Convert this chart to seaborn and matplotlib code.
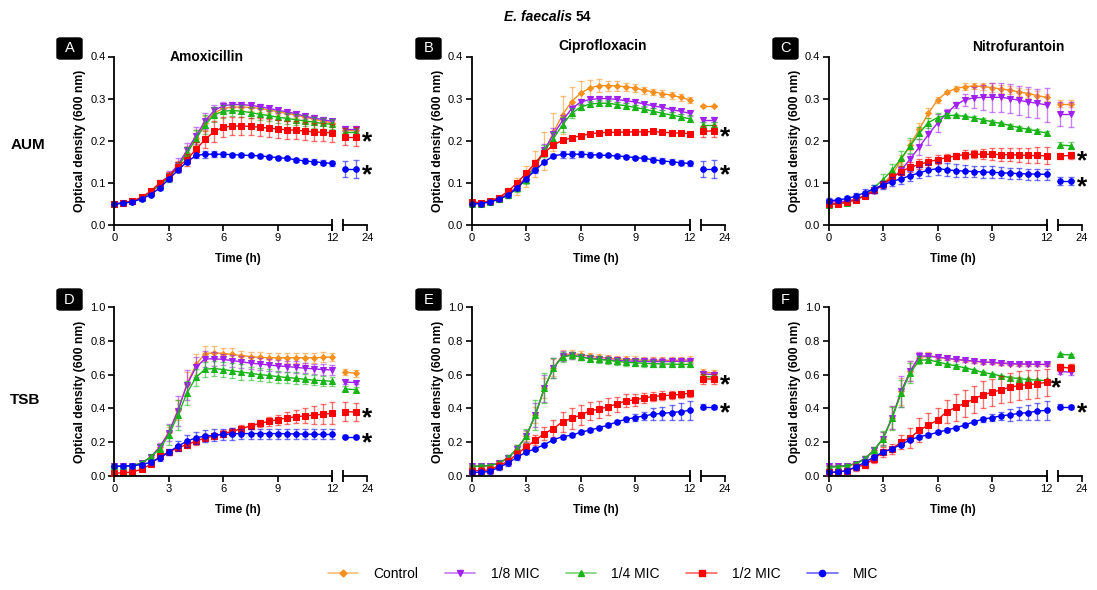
import matplotlib.pyplot as plt
import seaborn as sns
import pandas as pd
from matplotlib.lines import Line2D
from matplotlib.patches import FancyBboxPatch
from matplotlib.colors import to_rgba

# ---- data -------------------------------------------------------------
time_h = [0, 0.5, 1, 1.5, 2, 2.5, 3, 3.5, 4, 4.5, 5, 5.5, 6, 6.5, 7, 7.5, 8,
          8.5, 9, 9.5, 10, 10.5, 11, 11.5, 12]
time_late = [23.0, 23.5]   # the two 24 h readings (after the axis break)

groups = ["Control", "1/8 MIC", "1/4 MIC", "1/2 MIC", "MIC"]
colors = ["#F7901E", "#A020F0", "#18B418", "#FF0000", "#0000FF"]
markers = ["D", "v", "^", "s", "o"]
msizes = [3.0, 4.2, 4.2, 4.4, 4.0]

# each list: 25 values for 0-12 h, then the 2 late values
# A - AUM, Amoxicillin
A_control = [0.050, 0.052, 0.056, 0.064, 0.077, 0.095, 0.114, 0.140, 0.172, 0.207, 0.242, 0.266, 0.277, 0.280, 0.280, 0.279, 0.277, 0.273, 0.269, 0.265, 0.261, 0.256, 0.251, 0.247, 0.242, 0.225, 0.225]
A_mic8 = [0.050, 0.052, 0.056, 0.064, 0.078, 0.097, 0.117, 0.143, 0.177, 0.212, 0.247, 0.272, 0.283, 0.286, 0.286, 0.284, 0.281, 0.277, 0.272, 0.269, 0.264, 0.258, 0.254, 0.250, 0.246, 0.228, 0.228]
A_mic4 = [0.050, 0.052, 0.056, 0.064, 0.078, 0.096, 0.113, 0.138, 0.170, 0.205, 0.238, 0.262, 0.270, 0.272, 0.270, 0.267, 0.263, 0.260, 0.256, 0.253, 0.250, 0.247, 0.244, 0.241, 0.239, 0.220, 0.220]
A_mic2 = [0.050, 0.052, 0.057, 0.066, 0.080, 0.100, 0.115, 0.138, 0.155, 0.180, 0.203, 0.222, 0.232, 0.235, 0.235, 0.234, 0.232, 0.230, 0.228, 0.226, 0.225, 0.223, 0.221, 0.220, 0.219, 0.210, 0.210]
A_mic = [0.050, 0.052, 0.055, 0.062, 0.072, 0.088, 0.109, 0.130, 0.150, 0.165, 0.168, 0.168, 0.168, 0.167, 0.166, 0.165, 0.164, 0.162, 0.160, 0.158, 0.155, 0.152, 0.150, 0.148, 0.146, 0.133, 0.133]
A_control_sd = [0.002, 0.002, 0.003, 0.004, 0.005, 0.007, 0.009, 0.012, 0.015, 0.018, 0.016, 0.012, 0.009, 0.008, 0.008, 0.008, 0.008, 0.008, 0.008, 0.008, 0.008, 0.008, 0.008, 0.008, 0.008, 0.006, 0.006]
A_mic8_sd = [0.002, 0.002, 0.003, 0.004, 0.006, 0.008, 0.011, 0.015, 0.018, 0.020, 0.018, 0.012, 0.008, 0.006, 0.006, 0.006, 0.006, 0.006, 0.006, 0.006, 0.006, 0.006, 0.006, 0.006, 0.006, 0.006, 0.006]
A_mic4_sd = [0.002, 0.002, 0.003, 0.004, 0.006, 0.008, 0.010, 0.012, 0.015, 0.020, 0.022, 0.018, 0.015, 0.014, 0.014, 0.014, 0.014, 0.014, 0.014, 0.014, 0.013, 0.013, 0.013, 0.012, 0.012, 0.010, 0.010]
A_mic2_sd = [0.002, 0.002, 0.003, 0.004, 0.005, 0.008, 0.010, 0.012, 0.014, 0.016, 0.020, 0.025, 0.024, 0.022, 0.021, 0.021, 0.021, 0.021, 0.021, 0.021, 0.021, 0.021, 0.021, 0.021, 0.021, 0.020, 0.022]
A_mic_sd = [0.002, 0.002, 0.002, 0.003, 0.003, 0.004, 0.004, 0.005, 0.005, 0.005, 0.008, 0.007, 0.006, 0.005, 0.004, 0.004, 0.004, 0.004, 0.004, 0.004, 0.005, 0.006, 0.006, 0.006, 0.006, 0.018, 0.022]

# B - AUM, Ciprofloxacin
B_control = [0.053, 0.053, 0.056, 0.063, 0.075, 0.092, 0.115, 0.145, 0.175, 0.220, 0.262, 0.293, 0.313, 0.325, 0.331, 0.331, 0.330, 0.328, 0.325, 0.320, 0.316, 0.312, 0.308, 0.303, 0.297, 0.282, 0.282]
B_mic8 = [0.052, 0.052, 0.055, 0.062, 0.073, 0.090, 0.112, 0.140, 0.178, 0.215, 0.248, 0.276, 0.292, 0.298, 0.300, 0.300, 0.298, 0.295, 0.292, 0.287, 0.283, 0.279, 0.274, 0.270, 0.265, 0.250, 0.250]
B_mic4 = [0.050, 0.051, 0.054, 0.061, 0.071, 0.087, 0.108, 0.138, 0.176, 0.205, 0.238, 0.265, 0.280, 0.287, 0.289, 0.289, 0.286, 0.283, 0.279, 0.275, 0.270, 0.265, 0.261, 0.257, 0.252, 0.238, 0.238]
B_mic2 = [0.055, 0.053, 0.057, 0.065, 0.080, 0.100, 0.123, 0.148, 0.172, 0.190, 0.201, 0.207, 0.212, 0.216, 0.219, 0.220, 0.220, 0.221, 0.221, 0.221, 0.222, 0.220, 0.219, 0.218, 0.217, 0.222, 0.224]
B_mic = [0.050, 0.051, 0.055, 0.061, 0.071, 0.088, 0.110, 0.130, 0.150, 0.164, 0.168, 0.168, 0.168, 0.167, 0.166, 0.165, 0.164, 0.162, 0.160, 0.158, 0.155, 0.152, 0.150, 0.148, 0.146, 0.133, 0.133]
B_control_sd = [0.002, 0.003, 0.004, 0.008, 0.012, 0.020, 0.025, 0.030, 0.045, 0.045, 0.045, 0.035, 0.028, 0.020, 0.015, 0.012, 0.012, 0.010, 0.010, 0.008, 0.008, 0.008, 0.008, 0.008, 0.008, 0.002, 0.002]
B_mic8_sd = [0.002, 0.002, 0.003, 0.004, 0.006, 0.008, 0.010, 0.012, 0.014, 0.016, 0.012, 0.010, 0.008, 0.006, 0.006, 0.006, 0.006, 0.006, 0.006, 0.006, 0.006, 0.006, 0.006, 0.006, 0.006, 0.006, 0.006]
B_mic4_sd = [0.002, 0.002, 0.003, 0.004, 0.006, 0.008, 0.010, 0.012, 0.014, 0.016, 0.018, 0.012, 0.008, 0.007, 0.007, 0.007, 0.007, 0.007, 0.007, 0.007, 0.007, 0.007, 0.007, 0.007, 0.008, 0.006, 0.006]
B_mic2_sd = [0.003, 0.003, 0.003, 0.004, 0.004, 0.005, 0.005, 0.006, 0.006, 0.006, 0.005, 0.005, 0.004, 0.004, 0.004, 0.004, 0.004, 0.004, 0.004, 0.004, 0.004, 0.004, 0.004, 0.004, 0.004, 0.012, 0.014]
B_mic_sd = [0.002, 0.002, 0.002, 0.003, 0.003, 0.004, 0.005, 0.006, 0.005, 0.005, 0.008, 0.008, 0.007, 0.006, 0.004, 0.004, 0.004, 0.004, 0.004, 0.005, 0.006, 0.006, 0.006, 0.006, 0.006, 0.018, 0.022]

# C - AUM, Nitrofurantoin
C_control = [0.050, 0.052, 0.055, 0.060, 0.070, 0.080, 0.097, 0.120, 0.155, 0.190, 0.228, 0.265, 0.297, 0.315, 0.324, 0.328, 0.330, 0.329, 0.326, 0.323, 0.320, 0.316, 0.312, 0.307, 0.303, 0.288, 0.288]
C_mic8 = [0.055, 0.055, 0.057, 0.061, 0.068, 0.080, 0.095, 0.110, 0.130, 0.157, 0.185, 0.215, 0.242, 0.265, 0.285, 0.297, 0.302, 0.303, 0.303, 0.303, 0.300, 0.296, 0.292, 0.289, 0.285, 0.263, 0.263]
C_mic4 = [0.048, 0.050, 0.053, 0.060, 0.070, 0.088, 0.108, 0.130, 0.158, 0.188, 0.218, 0.243, 0.255, 0.260, 0.260, 0.258, 0.254, 0.250, 0.245, 0.241, 0.236, 0.231, 0.227, 0.223, 0.218, 0.190, 0.188]
C_mic2 = [0.050, 0.050, 0.054, 0.060, 0.070, 0.082, 0.097, 0.113, 0.127, 0.137, 0.144, 0.150, 0.155, 0.160, 0.164, 0.167, 0.168, 0.168, 0.168, 0.167, 0.167, 0.166, 0.165, 0.165, 0.164, 0.164, 0.165]
C_mic = [0.058, 0.059, 0.063, 0.068, 0.077, 0.086, 0.095, 0.103, 0.110, 0.117, 0.124, 0.130, 0.134, 0.131, 0.129, 0.128, 0.127, 0.126, 0.125, 0.124, 0.123, 0.122, 0.121, 0.121, 0.120, 0.105, 0.105]
C_control_sd = [0.002, 0.002, 0.003, 0.003, 0.004, 0.005, 0.006, 0.008, 0.010, 0.012, 0.014, 0.012, 0.007, 0.004, 0.006, 0.008, 0.008, 0.008, 0.010, 0.010, 0.010, 0.010, 0.010, 0.010, 0.008, 0.008, 0.008]
C_mic8_sd = [0.002, 0.002, 0.003, 0.003, 0.004, 0.005, 0.006, 0.008, 0.010, 0.012, 0.020, 0.025, 0.022, 0.010, 0.008, 0.015, 0.025, 0.030, 0.035, 0.035, 0.035, 0.035, 0.035, 0.035, 0.040, 0.028, 0.030]
C_mic4_sd = [0.002, 0.002, 0.003, 0.003, 0.005, 0.008, 0.012, 0.015, 0.017, 0.018, 0.015, 0.012, 0.010, 0.006, 0.004, 0.004, 0.004, 0.004, 0.004, 0.004, 0.004, 0.004, 0.004, 0.004, 0.004, 0.008, 0.008]
C_mic2_sd = [0.002, 0.002, 0.003, 0.003, 0.004, 0.006, 0.008, 0.010, 0.012, 0.012, 0.012, 0.012, 0.010, 0.008, 0.008, 0.010, 0.010, 0.012, 0.014, 0.015, 0.016, 0.017, 0.018, 0.019, 0.020, 0.008, 0.008]
C_mic_sd = [0.006, 0.006, 0.007, 0.008, 0.008, 0.009, 0.010, 0.011, 0.012, 0.012, 0.013, 0.014, 0.015, 0.015, 0.015, 0.014, 0.014, 0.014, 0.014, 0.013, 0.013, 0.013, 0.013, 0.013, 0.013, 0.010, 0.010]

# D - TSB, Amoxicillin
D_control = [0.055, 0.057, 0.060, 0.075, 0.110, 0.170, 0.260, 0.390, 0.545, 0.660, 0.725, 0.730, 0.725, 0.720, 0.713, 0.707, 0.702, 0.700, 0.700, 0.700, 0.700, 0.700, 0.700, 0.702, 0.705, 0.615, 0.607]
D_mic8 = [0.055, 0.057, 0.060, 0.075, 0.110, 0.170, 0.255, 0.385, 0.540, 0.645, 0.693, 0.694, 0.690, 0.683, 0.676, 0.668, 0.663, 0.657, 0.652, 0.648, 0.643, 0.638, 0.634, 0.630, 0.627, 0.555, 0.553]
D_mic4 = [0.055, 0.057, 0.060, 0.075, 0.110, 0.160, 0.240, 0.360, 0.490, 0.585, 0.632, 0.636, 0.630, 0.622, 0.615, 0.608, 0.600, 0.595, 0.588, 0.583, 0.578, 0.572, 0.567, 0.564, 0.560, 0.515, 0.510]
D_mic2 = [0.015, 0.017, 0.022, 0.038, 0.068, 0.115, 0.140, 0.165, 0.185, 0.205, 0.225, 0.235, 0.250, 0.262, 0.280, 0.295, 0.310, 0.322, 0.333, 0.343, 0.350, 0.355, 0.360, 0.365, 0.370, 0.380, 0.378]
D_mic = [0.055, 0.056, 0.060, 0.065, 0.080, 0.105, 0.140, 0.175, 0.205, 0.225, 0.235, 0.240, 0.245, 0.248, 0.250, 0.250, 0.250, 0.250, 0.250, 0.249, 0.248, 0.247, 0.246, 0.245, 0.245, 0.232, 0.232]
D_control_sd = [0.005, 0.005, 0.008, 0.010, 0.015, 0.020, 0.030, 0.060, 0.070, 0.060, 0.045, 0.040, 0.035, 0.035, 0.030, 0.030, 0.030, 0.030, 0.030, 0.030, 0.030, 0.030, 0.030, 0.030, 0.025, 0.020, 0.020]
D_mic8_sd = [0.005, 0.005, 0.008, 0.010, 0.015, 0.025, 0.050, 0.090, 0.090, 0.060, 0.045, 0.040, 0.035, 0.035, 0.035, 0.035, 0.035, 0.035, 0.035, 0.035, 0.035, 0.030, 0.030, 0.030, 0.030, 0.010, 0.010]
D_mic4_sd = [0.005, 0.005, 0.008, 0.010, 0.020, 0.030, 0.060, 0.090, 0.070, 0.050, 0.045, 0.045, 0.045, 0.045, 0.045, 0.040, 0.040, 0.040, 0.035, 0.035, 0.035, 0.030, 0.030, 0.030, 0.025, 0.015, 0.015]
D_mic2_sd = [0.008, 0.008, 0.010, 0.012, 0.012, 0.015, 0.015, 0.015, 0.018, 0.020, 0.020, 0.020, 0.020, 0.020, 0.020, 0.020, 0.020, 0.025, 0.030, 0.035, 0.040, 0.045, 0.055, 0.060, 0.065, 0.055, 0.055]
D_mic_sd = [0.010, 0.010, 0.012, 0.012, 0.015, 0.015, 0.020, 0.030, 0.035, 0.035, 0.035, 0.035, 0.035, 0.035, 0.030, 0.030, 0.030, 0.030, 0.030, 0.030, 0.030, 0.030, 0.030, 0.030, 0.030, 0.010, 0.010]

# E - TSB, Ciprofloxacin
E_control = [0.055, 0.057, 0.060, 0.075, 0.105, 0.160, 0.235, 0.360, 0.520, 0.640, 0.715, 0.725, 0.718, 0.710, 0.703, 0.698, 0.693, 0.690, 0.688, 0.686, 0.685, 0.685, 0.685, 0.686, 0.688, 0.615, 0.610]
E_mic8 = [0.055, 0.057, 0.060, 0.075, 0.105, 0.160, 0.235, 0.360, 0.520, 0.640, 0.710, 0.715, 0.705, 0.698, 0.692, 0.688, 0.684, 0.681, 0.679, 0.678, 0.677, 0.677, 0.678, 0.679, 0.680, 0.605, 0.600]
E_mic4 = [0.055, 0.057, 0.060, 0.075, 0.105, 0.160, 0.235, 0.360, 0.520, 0.640, 0.705, 0.715, 0.705, 0.695, 0.690, 0.685, 0.678, 0.673, 0.670, 0.667, 0.665, 0.663, 0.662, 0.661, 0.660, 0.590, 0.585]
E_mic2 = [0.030, 0.030, 0.035, 0.060, 0.085, 0.130, 0.170, 0.210, 0.250, 0.280, 0.320, 0.340, 0.360, 0.385, 0.395, 0.410, 0.425, 0.445, 0.450, 0.462, 0.470, 0.475, 0.478, 0.482, 0.490, 0.575, 0.573]
E_mic = [0.020, 0.020, 0.025, 0.050, 0.075, 0.110, 0.140, 0.160, 0.185, 0.213, 0.232, 0.240, 0.258, 0.270, 0.285, 0.300, 0.320, 0.335, 0.345, 0.355, 0.365, 0.370, 0.375, 0.380, 0.388, 0.408, 0.408]
E_control_sd = [0.010, 0.010, 0.012, 0.012, 0.015, 0.020, 0.030, 0.050, 0.060, 0.050, 0.030, 0.020, 0.020, 0.020, 0.020, 0.020, 0.020, 0.020, 0.020, 0.020, 0.020, 0.020, 0.020, 0.020, 0.020, 0.020, 0.020]
E_mic8_sd = [0.010, 0.010, 0.012, 0.012, 0.015, 0.020, 0.035, 0.070, 0.080, 0.060, 0.030, 0.020, 0.020, 0.020, 0.020, 0.020, 0.020, 0.020, 0.020, 0.020, 0.020, 0.020, 0.020, 0.020, 0.020, 0.015, 0.015]
E_mic4_sd = [0.010, 0.010, 0.012, 0.012, 0.015, 0.020, 0.040, 0.090, 0.090, 0.060, 0.030, 0.020, 0.020, 0.020, 0.020, 0.020, 0.020, 0.020, 0.020, 0.020, 0.020, 0.015, 0.015, 0.015, 0.015, 0.015, 0.015]
E_mic2_sd = [0.020, 0.020, 0.020, 0.020, 0.020, 0.025, 0.025, 0.030, 0.040, 0.050, 0.060, 0.060, 0.060, 0.055, 0.050, 0.050, 0.045, 0.040, 0.035, 0.030, 0.025, 0.025, 0.025, 0.020, 0.020, 0.030, 0.030]
E_mic_sd = [0.015, 0.015, 0.015, 0.015, 0.015, 0.015, 0.012, 0.010, 0.010, 0.010, 0.012, 0.012, 0.012, 0.012, 0.010, 0.010, 0.010, 0.015, 0.020, 0.025, 0.035, 0.040, 0.045, 0.050, 0.055, 0.015, 0.010]

# F - TSB, Nitrofurantoin
F_control = [0.055, 0.056, 0.060, 0.072, 0.102, 0.150, 0.220, 0.345, 0.500, 0.620, 0.700, 0.712, 0.705, 0.697, 0.690, 0.685, 0.680, 0.675, 0.672, 0.668, 0.665, 0.663, 0.662, 0.661, 0.660, 0.645, 0.640]
F_mic8 = [0.055, 0.056, 0.060, 0.072, 0.102, 0.150, 0.220, 0.345, 0.500, 0.620, 0.710, 0.710, 0.703, 0.697, 0.690, 0.685, 0.680, 0.675, 0.672, 0.668, 0.665, 0.663, 0.662, 0.661, 0.660, 0.618, 0.615]
F_mic4 = [0.050, 0.052, 0.058, 0.070, 0.100, 0.150, 0.220, 0.340, 0.490, 0.610, 0.685, 0.688, 0.675, 0.663, 0.652, 0.640, 0.628, 0.613, 0.603, 0.592, 0.582, 0.576, 0.571, 0.567, 0.565, 0.720, 0.717]
F_mic2 = [0.020, 0.020, 0.030, 0.050, 0.065, 0.100, 0.140, 0.160, 0.200, 0.225, 0.270, 0.300, 0.330, 0.380, 0.405, 0.430, 0.455, 0.480, 0.495, 0.510, 0.525, 0.535, 0.540, 0.545, 0.555, 0.643, 0.640]
F_mic = [0.020, 0.022, 0.030, 0.050, 0.080, 0.110, 0.140, 0.160, 0.185, 0.213, 0.232, 0.242, 0.258, 0.270, 0.285, 0.300, 0.320, 0.335, 0.345, 0.355, 0.362, 0.370, 0.375, 0.383, 0.388, 0.408, 0.408]
F_control_sd = [0.010, 0.010, 0.012, 0.012, 0.015, 0.020, 0.040, 0.070, 0.080, 0.060, 0.030, 0.020, 0.015, 0.012, 0.010, 0.010, 0.010, 0.010, 0.010, 0.010, 0.010, 0.010, 0.010, 0.010, 0.010, 0.020, 0.020]
F_mic8_sd = [0.010, 0.010, 0.012, 0.012, 0.015, 0.020, 0.040, 0.070, 0.090, 0.060, 0.025, 0.020, 0.015, 0.012, 0.010, 0.010, 0.010, 0.010, 0.010, 0.010, 0.010, 0.010, 0.010, 0.010, 0.010, 0.015, 0.015]
F_mic4_sd = [0.010, 0.010, 0.012, 0.012, 0.015, 0.020, 0.045, 0.070, 0.080, 0.060, 0.025, 0.015, 0.010, 0.008, 0.008, 0.008, 0.008, 0.008, 0.008, 0.008, 0.008, 0.008, 0.008, 0.008, 0.008, 0.008, 0.008]
F_mic2_sd = [0.015, 0.015, 0.015, 0.020, 0.020, 0.025, 0.030, 0.030, 0.040, 0.060, 0.070, 0.070, 0.070, 0.070, 0.080, 0.080, 0.080, 0.080, 0.080, 0.080, 0.085, 0.085, 0.085, 0.085, 0.080, 0.020, 0.020]
F_mic_sd = [0.015, 0.015, 0.015, 0.015, 0.015, 0.015, 0.012, 0.010, 0.010, 0.010, 0.012, 0.012, 0.012, 0.012, 0.010, 0.010, 0.010, 0.015, 0.020, 0.025, 0.035, 0.040, 0.045, 0.050, 0.055, 0.015, 0.010]

panel_letters = ["A", "B", "C", "D", "E", "F"]
drug_titles = ["Amoxicillin", "Ciprofloxacin", "Nitrofurantoin"]
media = ["AUM", "TSB"]

panels = [
    ([A_control, A_mic8, A_mic4, A_mic2, A_mic], [A_control_sd, A_mic8_sd, A_mic4_sd, A_mic2_sd, A_mic_sd]),
    ([B_control, B_mic8, B_mic4, B_mic2, B_mic], [B_control_sd, B_mic8_sd, B_mic4_sd, B_mic2_sd, B_mic_sd]),
    ([C_control, C_mic8, C_mic4, C_mic2, C_mic], [C_control_sd, C_mic8_sd, C_mic4_sd, C_mic2_sd, C_mic_sd]),
    ([D_control, D_mic8, D_mic4, D_mic2, D_mic], [D_control_sd, D_mic8_sd, D_mic4_sd, D_mic2_sd, D_mic_sd]),
    ([E_control, E_mic8, E_mic4, E_mic2, E_mic], [E_control_sd, E_mic8_sd, E_mic4_sd, E_mic2_sd, E_mic_sd]),
    ([F_control, F_mic8, F_mic4, F_mic2, F_mic], [F_control_sd, F_mic8_sd, F_mic4_sd, F_mic2_sd, F_mic_sd]),
]

# ---- style ------------------------------------------------------------
sns.set_theme(style="ticks")
plt.rcParams["font.family"] = ["Liberation Sans", "DejaVu Sans"]
plt.rcParams["axes.linewidth"] = 1.3
for key in ("text.color", "axes.labelcolor", "xtick.color", "ytick.color", "axes.edgecolor"):
    plt.rcParams[key] = "black"

W, H = 1097, 590
fig = plt.figure(figsize=(W / 100, H / 100), dpi=100)

col_left = [114.3, 471.7, 828.5]   # pixel x of t=0
row_bottom = [225.0, 475.7]        # pixel y of OD=0 (from top)
row_height = 168.5
main_w = 218
right_off, right_w = 229, 24


def fx(px):
    return px / W


def fy(py):
    return 1 - py / H


for idx, (means, sds) in enumerate(panels):
    r, c = divmod(idx, 3)
    left = col_left[c]
    bot = row_bottom[r]
    ymax = 0.4 if r == 0 else 1.0
    ax = fig.add_axes([fx(left), fy(bot), main_w / W, row_height / H])
    axr = fig.add_axes([fx(left + right_off), fy(bot), right_w / W, row_height / H])

    for g, col, mk, ms, vals, sd in zip(groups, colors, markers, msizes, means, sds):
        df = pd.DataFrame({"t": time_h, "od": vals[:25], "sd": sd[:25]})
        dl = pd.DataFrame({"t": time_late, "od": vals[25:], "sd": sd[25:]})
        for a, d in ((ax, df), (axr, dl)):
            a.errorbar(d["t"], d["od"], yerr=d["sd"], fmt="none",
                       ecolor=to_rgba(col, 0.55), elinewidth=1.0,
                       capsize=2.2, capthick=1.0, clip_on=False)
            sns.lineplot(data=d, x="t", y="od", color=col, marker=mk,
                         markersize=ms, markeredgecolor=col, linewidth=1.0,
                         ax=a, legend=False, clip_on=False)

    ax.set_xlim(0, 12)
    ax.set_ylim(0, ymax)
    ax.set_xticks([0, 3, 6, 9, 12])
    if r == 0:
        ax.set_yticks([0, 0.1, 0.2, 0.3, 0.4])
    else:
        ax.set_yticks([0, 0.2, 0.4, 0.6, 0.8, 1.0])
    ax.set_yticklabels([f"{v:.1f}" for v in ax.get_yticks()])
    ax.set_xlabel("")
    ax.set_ylabel("Optical density (600 nm)", fontsize=8.8, fontweight="bold", labelpad=3)
    sns.despine(ax=ax)
    ax.tick_params(length=4, width=1.2, labelsize=8, pad=2, color="black")

    axr.set_xlim(22.9, 24.0)
    axr.set_ylim(0, ymax)
    axr.set_xticks([24])
    axr.set_xticklabels(["24"])
    axr.set_yticks([])
    axr.set_xlabel("")
    axr.set_ylabel("")
    for s in ("left", "top", "right"):
        axr.spines[s].set_visible(False)
    axr.set_facecolor("none")
    axr.tick_params(length=4, width=1.2, labelsize=8, pad=2, color="black")

    # axis break marks
    ax.plot([12], [0], marker="|", ms=8, mew=1.3, color="black", clip_on=False, zorder=6)
    axr.plot([22.9], [0], marker="|", ms=8, mew=1.3, color="black", clip_on=False, zorder=6)

    # significance stars
    star_kw = dict(textcoords="offset points", fontsize=19, fontweight="bold",
                   ha="center", va="center", annotation_clip=False)
    if idx == 5:
        ax.annotate("*", xy=(12, F_mic2[24]), xytext=(7, -4.5), **star_kw)
    else:
        axr.annotate("*", xy=(23.5, means[3][26]), xytext=(8, -4.5), **star_kw)
    axr.annotate("*", xy=(23.5, means[4][26]), xytext=(8, -4.5), **star_kw)

    # x label
    fig.text(fx(left + 124), fy(259 if r == 0 else 510), "Time (h)",
             ha="center", va="center", fontsize=8.5, fontweight="bold")

    # panel letter in a black box
    bx = [57, 416, 773][c]
    by = 38 if r == 0 else 289
    fig.add_artist(FancyBboxPatch((fx(bx), fy(by + 21)), 25 / W, 21 / H,
                                  boxstyle="round,pad=0,rounding_size=0.003",
                                  transform=fig.transFigure, color="black"))
    fig.text(fx(bx + 12.5), fy(by + 10.5), panel_letters[idx], color="white",
             ha="center", va="center", fontsize=10.5)

# drug titles
for (x, y), t in zip([(207, 57), (603, 46), (1018, 47)], drug_titles):
    fig.text(fx(x), fy(y), t, ha="center", va="center", fontsize=10, fontweight="bold")

# medium labels
fig.text(fx(28), fy(145), media[0], ha="center", va="center", fontsize=11, fontweight="bold")
fig.text(fx(25), fy(400), media[1], ha="center", va="center", fontsize=11, fontweight="bold")

# overall title
fig.text(fx(572), fy(17), "E. faecalis", ha="right", va="center", fontsize=10,
         fontweight="bold", fontstyle="italic")
fig.text(fx(576), fy(17), "54", ha="left", va="center", fontsize=10, fontweight="bold")

# legend
handles = [Line2D([0], [0], color=to_rgba(col, 0.6), lw=1.2, marker=mk,
                  markersize=ms + 0.5, markerfacecolor=col, markeredgecolor=col)
           for col, mk, ms in zip(colors, markers, msizes)]
fig.legend(handles, groups, loc="center", bbox_to_anchor=(fx(603), fy(574)),
           ncol=5, frameon=False, fontsize=10, handlelength=2.2,
           handletextpad=1.1, columnspacing=1.9)

fig.savefig("out.png", dpi=100)
